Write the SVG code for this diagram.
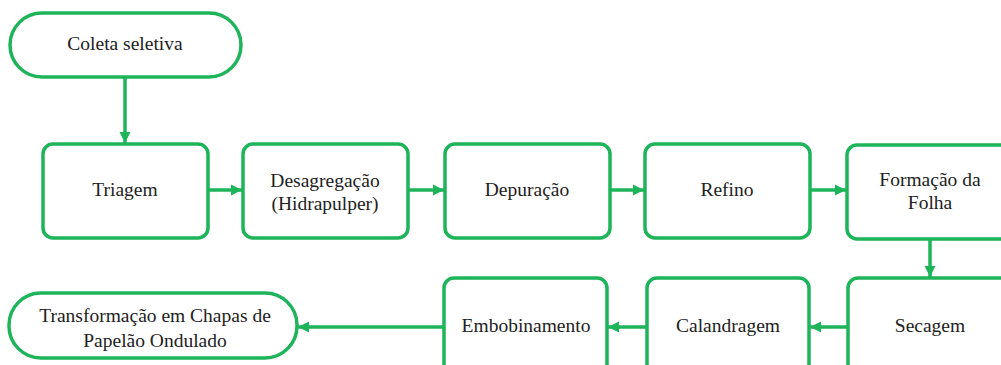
<svg xmlns="http://www.w3.org/2000/svg" width="1001" height="365" viewBox="0 0 1001 365">
<style>
.n{fill:#fff;stroke:#1DB45A;stroke-width:3.5}
.t{font-family:'Liberation Serif','DejaVu Serif',serif;font-size:19.5px;fill:#222;text-anchor:middle}
.c{stroke:#1DB45A;stroke-width:3.5;fill:none}
</style>
<defs>
<marker id="ah" viewBox="0 0 10 10" refX="10" refY="5" markerWidth="11" markerHeight="13" markerUnits="userSpaceOnUse" orient="auto">
<path d="M0,0 L10,5 L0,10 z" fill="#1DB45A"/>
</marker>
</defs>
<rect width="1001" height="365" fill="#fff"/>
<g id="connectors">
<line class="c" x1="125" y1="77" x2="125" y2="143" marker-end="url(#ah)"/>
<line class="c" x1="208" y1="190" x2="242" y2="190" marker-end="url(#ah)"/>
<line class="c" x1="408" y1="190" x2="444" y2="190" marker-end="url(#ah)"/>
<line class="c" x1="610" y1="190" x2="644" y2="190" marker-end="url(#ah)"/>
<line class="c" x1="810" y1="190" x2="846" y2="190" marker-end="url(#ah)"/>
<line class="c" x1="930" y1="239" x2="930" y2="277" marker-end="url(#ah)"/>
<line class="c" x1="848" y1="327" x2="810" y2="327" marker-end="url(#ah)"/>
<line class="c" x1="647" y1="327" x2="608" y2="327" marker-end="url(#ah)"/>
<line class="c" x1="444" y1="327" x2="298" y2="327" marker-end="url(#ah)"/>
</g>
<g id="coleta"><rect class="n" x="10" y="13" width="231" height="64" rx="32"/><text class="t" x="125" y="50">Coleta seletiva</text></g>
<g id="triagem"><rect class="n" x="43" y="144" width="165" height="94" rx="10"/><text class="t" x="125" y="196">Triagem</text></g>
<g id="desagregacao"><rect class="n" x="243" y="144" width="165" height="94" rx="10"/><text class="t" x="325" y="187">Desagregação</text><text class="t" x="325" y="210">(Hidrapulper)</text></g>
<g id="depuracao"><rect class="n" x="445" y="144" width="165" height="94" rx="10"/><text class="t" x="527" y="196">Depuração</text></g>
<g id="refino"><rect class="n" x="645" y="144" width="165" height="94" rx="10"/><text class="t" x="727" y="196">Refino</text></g>
<g id="formacao"><rect class="n" x="847" y="145" width="166" height="94" rx="10"/><text class="t" x="930" y="186">Formação da</text><text class="t" x="930" y="209">Folha</text></g>
<g id="secagem"><rect class="n" x="848" y="278" width="165" height="96" rx="10"/><text class="t" x="930" y="332">Secagem</text></g>
<g id="calandragem"><rect class="n" x="647" y="278" width="162" height="96" rx="10"/><text class="t" x="728" y="332">Calandragem</text></g>
<g id="embobinamento"><rect class="n" x="444" y="278" width="163" height="96" rx="10"/><text class="t" x="526" y="332">Embobinamento</text></g>
<g id="transformacao"><rect class="n" x="9" y="293" width="288" height="65" rx="32"/><text class="t" x="155" y="322">Transformação em Chapas de</text><text class="t" x="155" y="347">Papelão Ondulado</text></g>
</svg>
